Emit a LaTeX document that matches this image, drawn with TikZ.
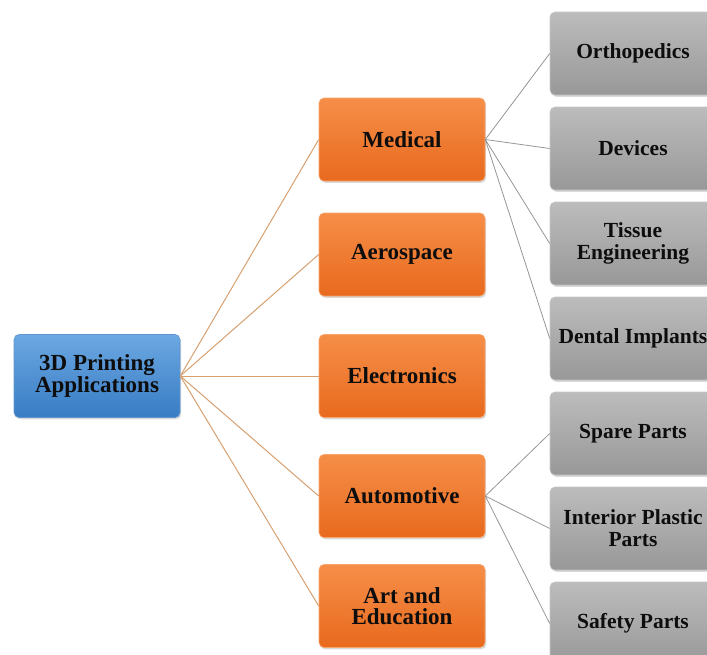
\documentclass[tikz,border=0pt]{standalone}
\usepackage{fontspec}
\setmainfont{Liberation Serif}
\usepackage{tikz}
\usetikzlibrary{shapes,shadows,positioning}
\definecolor{rootTop}{RGB}{108,168,226}
\definecolor{rootBot}{RGB}{56,124,196}
\definecolor{fieldTop}{RGB}{246,142,72}
\definecolor{fieldBot}{RGB}{232,106,30}
\definecolor{leafTop}{RGB}{188,188,188}
\definecolor{leafBot}{RGB}{152,152,152}
\definecolor{trunkLine}{RGB}{214,160,112}
\definecolor{twigLine}{RGB}{150,150,150}
\tikzstyle{box} = [rectangle, rounded corners=5pt, minimum width=166pt,
    minimum height=83pt, align=center, text=black!95,
    font=\bfseries\fontsize{23}{21}\selectfont,
    drop shadow={shadow xshift=1.2pt, shadow yshift=-1.8pt, opacity=0.3}]
\tikzstyle{root} = [box, top color=rootTop, bottom color=rootBot, draw=rootBot!80!white, line width=0.6pt]
\tikzstyle{field} = [box, top color=fieldTop, bottom color=fieldBot, draw=fieldTop!80!white, line width=0.6pt]
\tikzstyle{leaf} = [box, top color=leafTop, bottom color=leafBot, draw=leafTop!85!white, line width=0.6pt,
    font=\bfseries\fontsize{21.5}{22}\selectfont]
\tikzstyle{trunk} = [draw=trunkLine, line width=1pt]
\tikzstyle{twig} = [draw=twigLine, line width=0.8pt]

\begin{document}
\begin{tikzpicture}[x=1pt, y=-1pt, node distance=95pt]
  \useasboundingbox (0,0) rectangle (707,654);
  \clip (0,0) rectangle (707,654);
  % Place nodes
  \node [root] (app) at (97,376) {3D Printing\\Applications};
  \node [field, right of=app, node distance=305pt] (elec) {Electronics};
  \node [field, above of=elec, node distance=121.5pt] (aero) {Aerospace};
  \node [field, above of=aero, node distance=115pt] (med) {Medical};
  \node [field, below of=elec, node distance=120pt] (auto) {Automotive};
  \node [field, below of=auto, node distance=110pt] (art) {Art and\\Education};
  \node [leaf] (ortho) at (633,53.5) {Orthopedics};
  \node [leaf, below of=ortho] (dev) {Devices};
  \node [leaf, below of=dev] (tissue) {Tissue\\Engineering};
  \node [leaf, below of=tissue] (dental) {Dental Implants};
  \node [leaf, below of=dental] (spare) {Spare Parts};
  \node [leaf, below of=spare] (inter) {Interior Plastic\\Parts};
  \node [leaf, below of=inter] (safety) {Safety Parts};
  % Branches
  \draw [trunk] (app.east) -- (med.west);
  \draw [trunk] (app.east) -- (aero.west);
  \draw [trunk] (app.east) -- (elec.west);
  \draw [trunk] (app.east) -- (auto.west);
  \draw [trunk] (app.east) -- (art.west);
  \draw [twig] (med.east) -- (ortho.west);
  \draw [twig] (med.east) -- (dev.west);
  \draw [twig] (med.east) -- (tissue.west);
  \draw [twig] (med.east) -- (dental.west);
  \draw [twig] (auto.east) -- (spare.west);
  \draw [twig] (auto.east) -- (inter.west);
  \draw [twig] (auto.east) -- (safety.west);
\end{tikzpicture}
\end{document}
